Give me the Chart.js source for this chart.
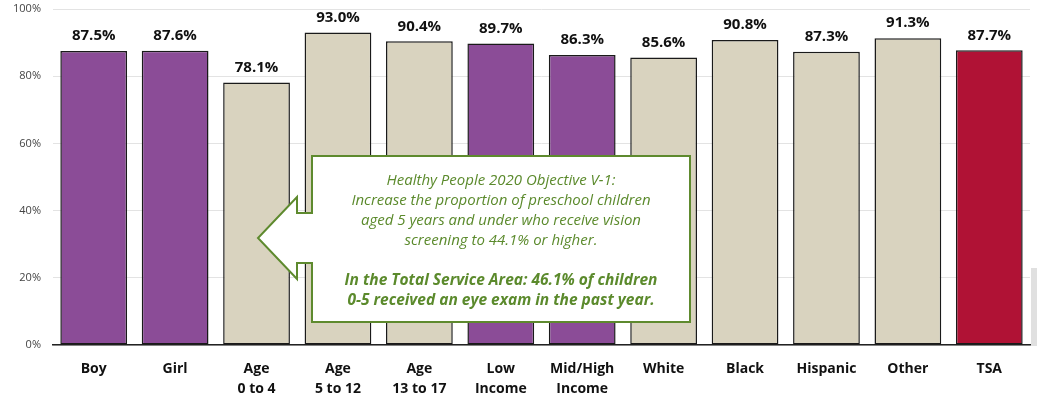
<!DOCTYPE html>
<html>
<head>
<meta charset="utf-8">
<script src="https://cdn.jsdelivr.net/npm/chart.js@4/dist/chart.umd.min.js"></script>
<style>
  html, body { margin: 0; padding: 0; background: #fff; }
  #wrap { width: 1037px; height: 402px; position: relative; }
</style>
</head>
<body>
<div id="wrap"><canvas id="chart"></canvas></div>
<script>
const categories = [['Boy'], ['Girl'], ['Age', '0 to 4'], ['Age', '5 to 12'], ['Age', '13 to 17'],
   ['Low', 'Income'], ['Mid/High', 'Income'], ['White'], ['Black'], ['Hispanic'], ['Other'], ['TSA']];
const values = [87.5, 87.6, 78.1, 93.0, 90.4, 89.7, 86.3, 85.6, 90.8, 87.3, 91.3, 87.7];
const groups = ['demo', 'demo', 'other', 'other', 'other', 'demo', 'demo', 'other', 'other', 'other', 'other', 'tsa'];
const yTicks = [0, 20, 40, 60, 80, 100];

const groupColors = { demo: '#8b4c97', other: '#d9d3bf', tsa: '#b01235' };

const calloutLines = [
   'Healthy People 2020 Objective V-1:',
   'Increase the proportion of preschool children',
   'aged 5 years and under who receive vision',
   'screening to 44.1% or higher.'
];
const calloutBold = [
   'In the Total Service Area: 46.1% of children',
   '0-5 received an eye exam in the past year.'
];

const FONT = '"Open Sans", Lato, sans-serif';

// value labels above bars
const valueLabels = {
   id: 'valueLabels',
   afterDatasetsDraw(chart) {
      const c = chart.ctx;
      const meta = chart.getDatasetMeta(0);
      c.save();
      c.font = 'bold 15px ' + FONT;
      c.fillStyle = '#111';
      c.textAlign = 'center';
      c.textBaseline = 'middle';
      meta.data.forEach((bar, i) => {
         c.fillText(values[i].toFixed(1) + '%', bar.x, bar.y - 15);
      });
      c.restore();
   }
};

// arrow callout box
const callout = {
   id: 'callout',
   afterDraw(chart) {
      const c = chart.ctx;
      c.save();
      c.beginPath();
      c.moveTo(312, 156);
      c.lineTo(690, 156);
      c.lineTo(690, 322);
      c.lineTo(312, 322);
      c.lineTo(312, 263);
      c.lineTo(297, 263);
      c.lineTo(297, 279);
      c.lineTo(258, 238);
      c.lineTo(297, 197);
      c.lineTo(297, 213);
      c.lineTo(312, 213);
      c.closePath();
      c.fillStyle = '#fff';
      c.fill();
      c.lineWidth = 2;
      c.strokeStyle = '#5e8a2e';
      c.stroke();

      c.fillStyle = '#5b8a2c';
      c.textAlign = 'center';
      c.textBaseline = 'middle';
      c.font = 'italic 15px ' + FONT;
      calloutLines.forEach((t, i) => c.fillText(t, 501, 181 + i * 20));
      c.font = 'bold italic 15.5px ' + FONT;
      calloutBold.forEach((t, i) => c.fillText(t, 501, 281 + i * 20));

      // faint shadow at the right edge
      c.fillStyle = 'rgba(0,0,0,0.12)';
      c.fillRect(1031, 268, 6, 78);
      c.restore();
   }
};

new Chart(document.getElementById('chart'), {
   type: 'bar',
   data: {
      labels: categories,
      datasets: [{
         data: values,
         backgroundColor: groups.map(g => groupColors[g]),
         borderColor: '#1a1a1a',
         borderWidth: 1.5,
         borderSkipped: false,
         categoryPercentage: 0.82,
         barPercentage: 1
      }]
   },
   options: {
      responsive: true,
      maintainAspectRatio: false,
      animation: false,
      layout: { padding: { top: 9, right: 7, left: 0, bottom: 0 } },
      plugins: { legend: { display: false }, tooltip: { enabled: false } },
      scales: {
         x: {
            afterFit(axis) {
               axis.height = 57;
               axis.paddingTop = 0;
               axis.paddingBottom = 0;
            },
            grid: { display: false, drawTicks: false },
            border: { color: '#222', width: 1.5 },
            ticks: {
               color: '#111',
               font: { family: FONT, size: 14, weight: 'bold', lineHeight: 1.45 },
               padding: 14,
               maxRotation: 0,
               autoSkip: false
            }
         },
         y: {
            min: 0,
            max: 100,
            afterFit(axis) {
               axis.width = 53;
               axis.paddingTop = 0;
               axis.paddingBottom = 0;
            },
            afterBuildTicks(axis) { axis.ticks = yTicks.map(v => ({ value: v })); },
            grid: { color: '#e3e3e3', drawTicks: false },
            border: { display: false },
            ticks: {
               color: '#444',
               font: { family: FONT, size: 11 },
               padding: 12,
               callback: v => v + '%'
            }
         }
      }
   },
   plugins: [valueLabels, callout]
});
</script>
</body>
</html>
